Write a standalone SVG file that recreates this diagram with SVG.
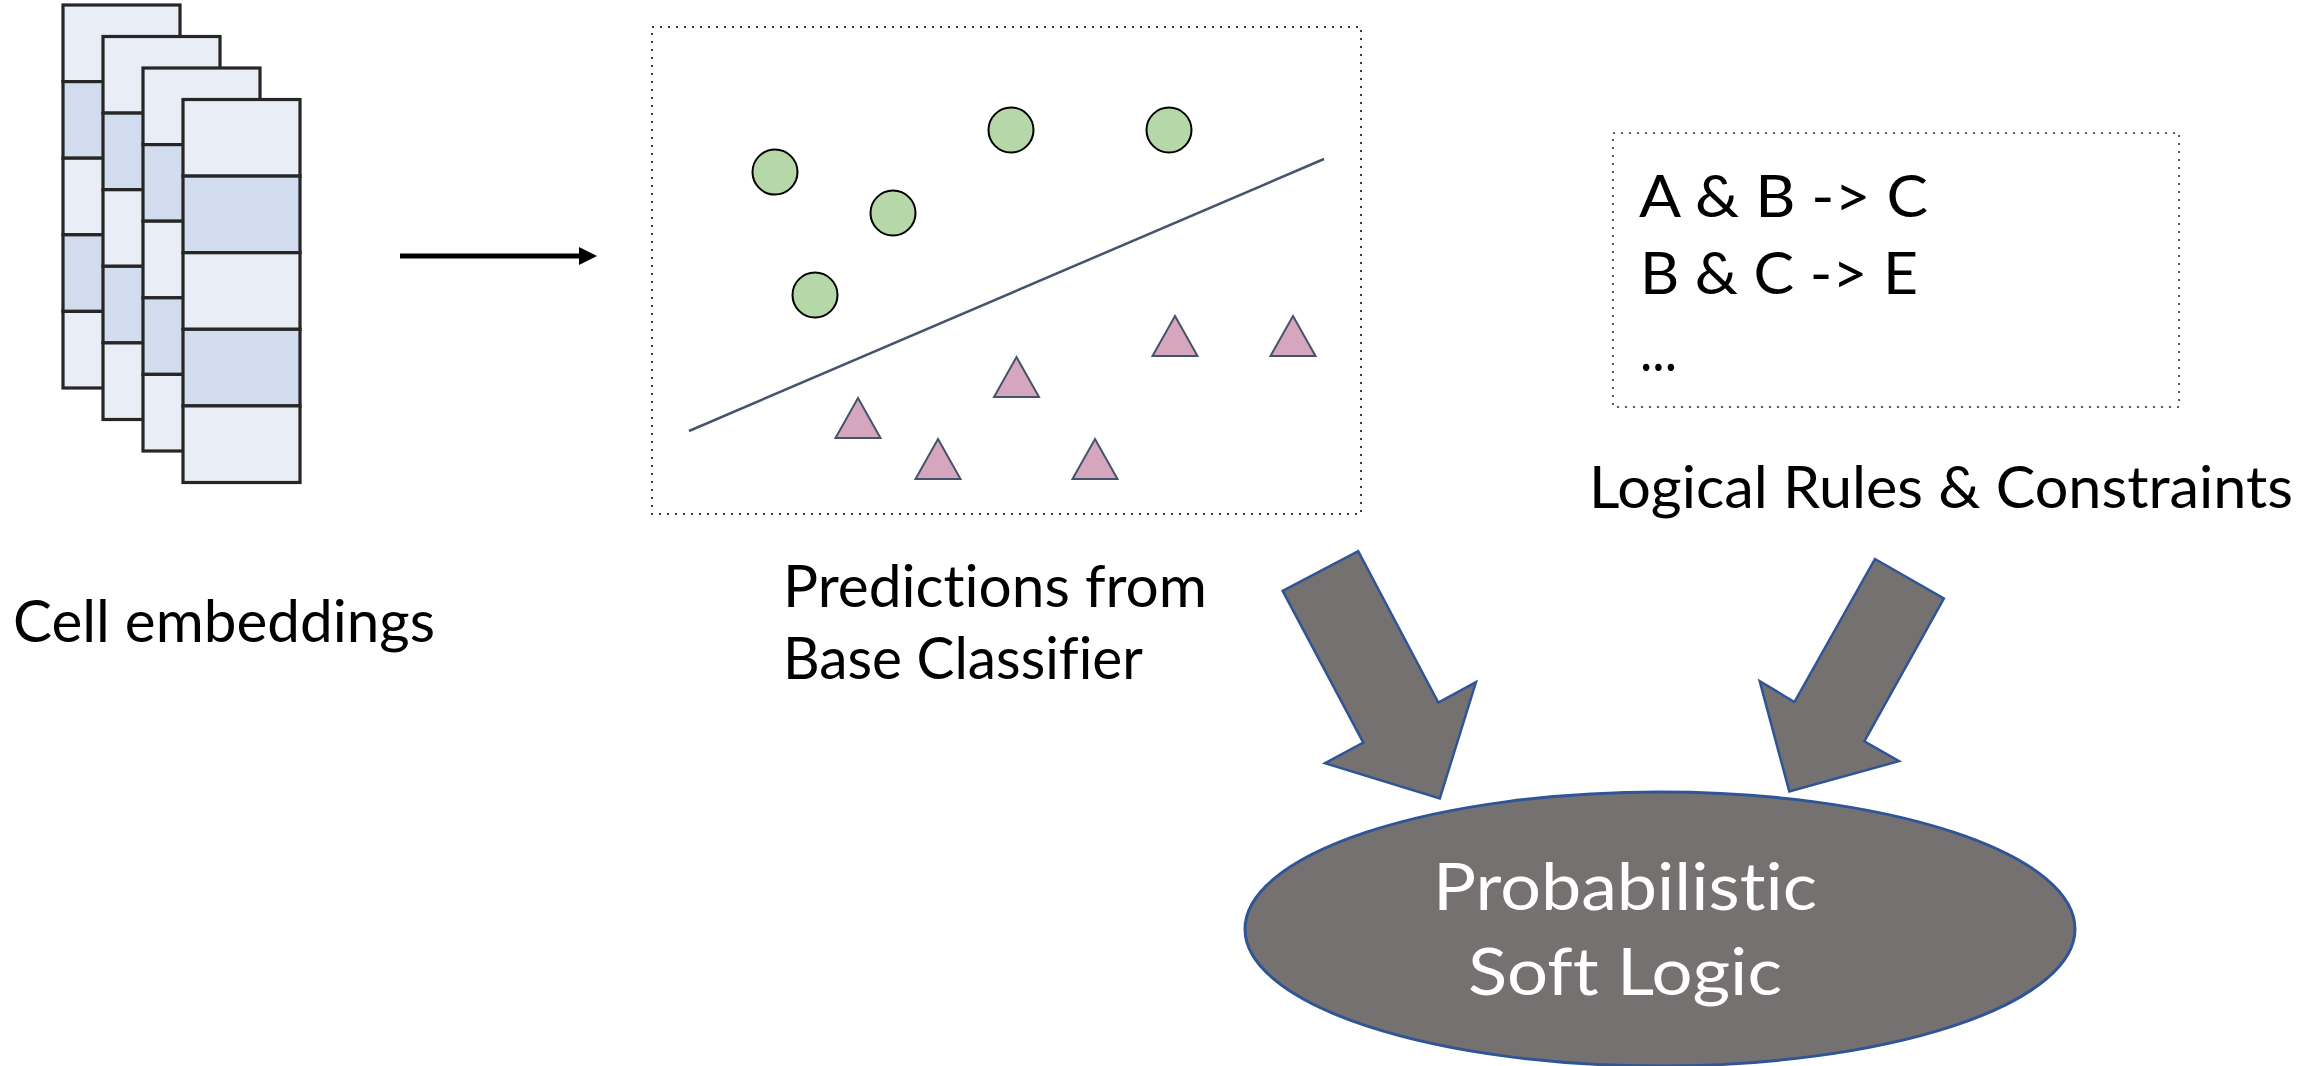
<svg xmlns="http://www.w3.org/2000/svg" xmlns:xlink="http://www.w3.org/1999/xlink" width="2297" height="1066" viewBox="0 0 2297 1066">
<style>
  .lbl { font-family: Lato, "Open Sans", "Liberation Sans", sans-serif; fill: #000; font-size: 58px; font-variant-ligatures: none; }
  .psl { font-family: Lato, "Open Sans", "Liberation Sans", sans-serif; fill: #fff; font-size: 66px; font-variant-ligatures: none; }
  .light { fill: #E9EDF6; stroke: #262626; stroke-width: 3.2; }
  .dark { fill: #D1DCEE; stroke: #262626; stroke-width: 3.2; }
  .dotbox { fill: none; stroke-width: 2; stroke-dasharray: 2 6; }
  .pos { fill: #B6D7A8; stroke: #000; stroke-width: 2; }
  .neg { fill: #D5A6BD; stroke: #44546A; stroke-width: 2; stroke-linejoin: miter; }
  .block { fill: #767171; stroke: #2F5597; stroke-width: 2.5; stroke-linejoin: miter; }
</style>
<defs>
  <g id="card">
    <rect class="light" x="0" y="0" width="117" height="76.6"/>
    <rect class="dark" x="0" y="76.6" width="117" height="76.6"/>
    <rect class="light" x="0" y="153.2" width="117" height="76.6"/>
    <rect class="dark" x="0" y="229.8" width="117" height="76.6"/>
    <rect class="light" x="0" y="306.4" width="117" height="76.6"/>
  </g>
  <marker id="arrowhead" markerWidth="18" markerHeight="18" refX="0" refY="9" orient="auto" markerUnits="userSpaceOnUse" viewBox="0 0 18 18">
    <path d="M0,0 L18,9 L0,18 Z" fill="#000"/>
  </marker>
</defs>
<rect width="2297" height="1066" fill="#fff"/>

<g id="cell-embeddings">
  <use xlink:href="#card" href="#card" x="63" y="5"/>
  <use xlink:href="#card" href="#card" x="103" y="36.5"/>
  <use xlink:href="#card" href="#card" x="143" y="68"/>
  <use xlink:href="#card" href="#card" x="183" y="99.5"/>
  <text class="lbl" x="13" y="642" textLength="422" lengthAdjust="spacingAndGlyphs">Cell embeddings</text>
</g>

<g id="base-classifier">
  <rect class="dotbox" stroke="#3a3a3a" x="652" y="27" width="709" height="487"/>
  <line x1="689" y1="431" x2="1324" y2="159" stroke="#44546A" stroke-width="2.5"/>
  <circle class="pos" cx="775" cy="172" r="22.5"/>
  <circle class="pos" cx="893" cy="213" r="22.5"/>
  <circle class="pos" cx="1011" cy="130" r="22.5"/>
  <circle class="pos" cx="1169" cy="130" r="22.5"/>
  <circle class="pos" cx="815" cy="295" r="22.5"/>
  <polygon class="neg" points="858,398 880.5,438 835.5,438"/>
  <polygon class="neg" points="938,439 960.5,479 915.5,479"/>
  <polygon class="neg" points="1016.5,357 1039,397 994,397"/>
  <polygon class="neg" points="1095,439 1117.5,479 1072.5,479"/>
  <polygon class="neg" points="1175,316 1197.5,356 1152.5,356"/>
  <polygon class="neg" points="1293,316 1315.5,356 1270.5,356"/>
  <text class="lbl" x="783" y="607" textLength="424" lengthAdjust="spacingAndGlyphs">Predictions from</text>
  <text class="lbl" x="783" y="679" textLength="360" lengthAdjust="spacingAndGlyphs">Base Classifier</text>
</g>

<g id="logical-rules">
  <rect class="dotbox" stroke="#5a5a5a" x="1613" y="133" width="566" height="274"/>
  <text class="lbl" x="1639" y="217" textLength="289" lengthAdjust="spacingAndGlyphs">A &amp; B -&gt; C</text>
  <text class="lbl" x="1640" y="294" textLength="278" lengthAdjust="spacingAndGlyphs">B &amp; C -&gt; E</text>
  <text class="lbl" x="1640" y="371" textLength="37" lengthAdjust="spacingAndGlyphs">...</text>
  <text class="lbl" x="1589" y="508" textLength="704" lengthAdjust="spacingAndGlyphs">Logical Rules &amp; Constraints</text>
</g>

<g id="psl">
  <ellipse cx="1660" cy="929" rx="415" ry="137" fill="#767171" stroke="#2F5597" stroke-width="3"/>
  <text class="psl" x="1433" y="910" textLength="384" lengthAdjust="spacingAndGlyphs">Probabilistic</text>
  <text class="psl" x="1468" y="995" textLength="314" lengthAdjust="spacingAndGlyphs">Soft Logic</text>
</g>

<g id="connectors">
  <line x1="400" y1="256" x2="579" y2="256" stroke="#000" stroke-width="5" marker-end="url(#arrowhead)"/>
  <polygon class="block" points="1282.7,590.9 1358.2,551.2 1438.3,702.6 1476,682.1 1439.8,798.4 1325,763.2 1363.3,742.6"/>
  <polygon class="block" points="1875,559 1943.9,598.4 1864.3,741.3 1899,761.1 1789.3,791.5 1759.7,681.1 1794.4,702"/>
</g>
</svg>
